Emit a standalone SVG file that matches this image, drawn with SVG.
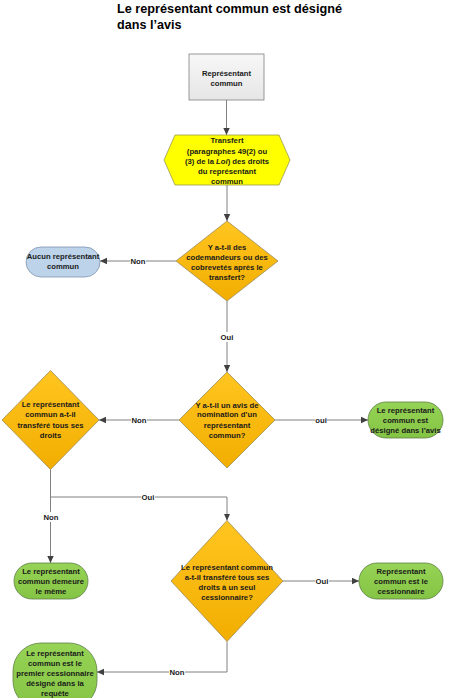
<svg xmlns="http://www.w3.org/2000/svg" width="466" height="698" viewBox="0 0 466 698">
<style>
text{font-family:"Liberation Sans",Arial,sans-serif;font-weight:bold;font-size:7.7px;fill:#1a1a1a;text-anchor:middle}
.title{font-size:12.6px;text-anchor:start;fill:#000}
.dia{fill:url(#gOrange);stroke:#9c8a5c;stroke-width:0.8}
.grn{fill:url(#gGreen);stroke:#5f7f48;stroke-width:0.8}
.blu{fill:#bcd3ea;stroke:#7f95ad;stroke-width:0.8}
.hex{fill:#ffff00;stroke:#9a9a50;stroke-width:0.8}
.box{fill:url(#gGray);stroke:#808080;stroke-width:0.8}
.edge{fill:none;stroke:#808080;stroke-width:1}
.lbg{fill:#fff}
</style>
<defs>
<linearGradient id="gOrange" x1="0" y1="0" x2="0" y2="1">
<stop offset="0" stop-color="#ffc520"/>
<stop offset="1" stop-color="#f2ae00"/>
</linearGradient>
<linearGradient id="gGreen" x1="0" y1="0" x2="0" y2="1">
<stop offset="0" stop-color="#96d356"/>
<stop offset="1" stop-color="#84c444"/>
</linearGradient>
<linearGradient id="gGray" x1="0" y1="0" x2="0" y2="1">
<stop offset="0" stop-color="#f7f7f7"/>
<stop offset="1" stop-color="#e6e6e6"/>
</linearGradient>
<marker id="arr" markerUnits="userSpaceOnUse" markerWidth="8" markerHeight="8" viewBox="0 0 8 8" refX="7" refY="4" orient="auto">
<path d="M0,0.8 L7,4 L0,7.2 Z" fill="#404040"/>
</marker>
</defs>

<text class="title" x="117" y="12.5" textLength="225" lengthAdjust="spacingAndGlyphs">Le représentant commun est désigné</text>
<text class="title" x="117" y="29">dans l’avis</text>

<g id="connectors">
<path class="edge" d="M226.5,100 V135" marker-end="url(#arr)"/>
<path class="edge" d="M227,185 V221" marker-end="url(#arr)"/>
<path class="edge" d="M176,261 H100" marker-end="url(#arr)"/>
<path class="edge" d="M227,301 V372" marker-end="url(#arr)"/>
<path class="edge" d="M179,420 H99" marker-end="url(#arr)"/>
<path class="edge" d="M275,420 H368" marker-end="url(#arr)"/>
<path class="edge" d="M50.5,469.5 V563" marker-end="url(#arr)"/>
<path class="edge" d="M50.5,497 H227 V520.5" marker-end="url(#arr)"/>
<path class="edge" d="M283,581 H359" marker-end="url(#arr)"/>
<path class="edge" d="M227,641.5 V672 H97" marker-end="url(#arr)"/>
<g id="labels">
<rect class="lbg" x="130" y="256" width="16" height="10"/><text x="138" y="263.7">Non</text>
<rect class="lbg" x="220" y="332" width="14" height="10"/><text x="227" y="339.7">Oui</text>
<rect class="lbg" x="131" y="415" width="16" height="10"/><text x="139" y="422.7">Non</text>
<rect class="lbg" x="315" y="415" width="12" height="10"/><text x="321" y="422.7">oui</text>
<rect class="lbg" x="43" y="512" width="16" height="10"/><text x="51" y="519.7">Non</text>
<rect class="lbg" x="141" y="492" width="14" height="10"/><text x="148" y="499.7">Oui</text>
<rect class="lbg" x="315" y="576" width="14" height="10"/><text x="322" y="583.7">Oui</text>
<rect class="lbg" x="169" y="667" width="16" height="10"/><text x="177" y="674.7">Non</text>
</g>
</g>

<g id="n-start">
<rect class="box" x="189" y="54" width="75" height="46"/>
<text x="226.5" y="75.5">Représentant</text>
<text x="226.5" y="85.5">commun</text>
</g>

<g id="n-transfert">
<polygon class="hex" points="164,160 175,135 279,135 290,160 279,185 175,185"/>
<text x="227" y="143.2">Transfert</text>
<text x="227" y="153.5">(paragraphes 49(2) ou</text>
<text x="227" y="163.7">(3) de la <tspan font-style="italic">Loi</tspan>) des droits</text>
<text x="227" y="173.9">du représentant</text>
<text x="227" y="184">commun</text>
</g>

<g id="n-q1">
<polygon class="dia" points="227,221 278,261 227,301 176,261"/>
<text x="227" y="249.7">Y a-t-il des</text>
<text x="227" y="259.7">codemandeurs ou des</text>
<text x="227" y="269.7">cobrevetés après le</text>
<text x="227" y="279.7">transfert?</text>
</g>

<g id="n-aucun">
<rect class="blu" x="26" y="247" width="74" height="30" rx="15" ry="15"/>
<text x="63" y="259.4">Aucun représentant</text>
<text x="63" y="269.4">commun</text>
</g>

<g id="n-q2">
<polygon class="dia" points="227,372 275,420 227,468 179,420"/>
<text x="227" y="407.7">Y a-t-il un avis de</text>
<text x="227" y="417.4">nomination d’un</text>
<text x="227" y="427.7">représentant</text>
<text x="227" y="437.7">commun?</text>
</g>

<g id="n-q3">
<polygon class="dia" points="50.5,370.5 99,420 50.5,469.5 2,420"/>
<text x="50.5" y="406.7">Le représentant</text>
<text x="50.5" y="417.2">commun a-t-il</text>
<text x="50.5" y="427.7">transféré tous ses</text>
<text x="50.5" y="437.7">droits</text>
</g>

<g id="n-avis">
<rect class="grn" x="368" y="402" width="75" height="36" rx="18" ry="18"/>
<text x="405.5" y="413.2">Le représentant</text>
<text x="405.5" y="423.4">commun est</text>
<text x="405.5" y="433.4">désigné dans l’avis</text>
</g>

<g id="n-meme">
<rect class="grn" x="14" y="563" width="74" height="36" rx="18" ry="18"/>
<text x="51" y="573.7">Le représentant</text>
<text x="51" y="584.4">commun demeure</text>
<text x="51" y="594.4">le même</text>
</g>

<g id="n-q4">
<polygon class="dia" points="227,520.5 283,581 227,641.5 171,581"/>
<text x="227" y="569.7">Le représentant commun</text>
<text x="227" y="579.7">a-t-il transféré tous ses</text>
<text x="227" y="589.7">droits à un seul</text>
<text x="227" y="599.7">cessionnaire?</text>
</g>

<g id="n-cess">
<rect class="grn" x="359" y="563" width="84" height="36" rx="18" ry="18"/>
<text x="401" y="573.7">Représentant</text>
<text x="401" y="584.4">commun est le</text>
<text x="401" y="594.4">cessionnaire</text>
</g>

<g id="n-premier">
<rect class="grn" x="13" y="643" width="84" height="66" rx="28" ry="28"/>
<text x="55" y="655.7">Le représentant</text>
<text x="55" y="665.7">commun est le</text>
<text x="55" y="675.7">premier cessionnaire</text>
<text x="55" y="685.7">désigné dans la</text>
<text x="55" y="695.7">requête</text>
</g>
</svg>
